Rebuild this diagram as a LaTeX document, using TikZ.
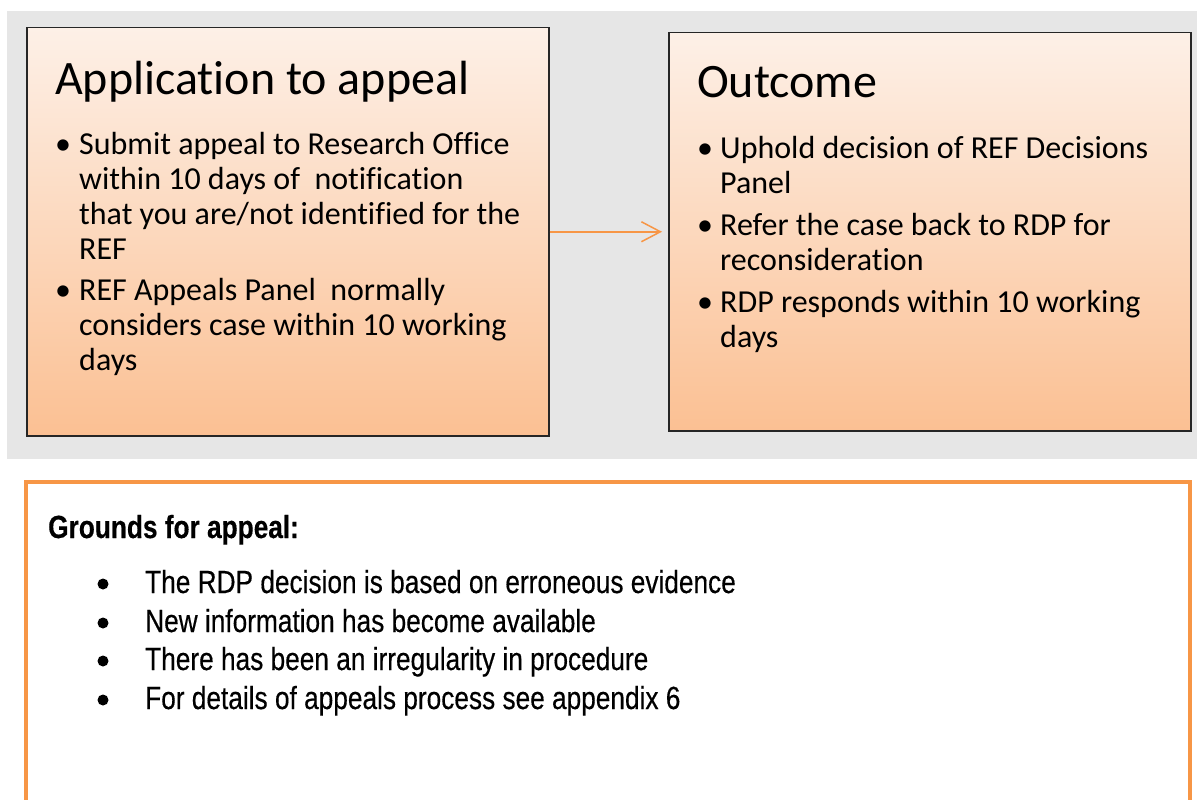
\documentclass[tikz,border=0pt]{standalone}
\usepackage{fontspec}
\setmainfont{Carlito}[Ligatures=NoCommon]
\newfontfamily\narrowfont[FakeStretch=0.82,FakeBold=0.4]{Liberation Sans}
\usetikzlibrary{arrows.meta}
\definecolor{band}{HTML}{E6E6E6}
\definecolor{peach}{HTML}{FDF0E7}
\definecolor{apricot}{HTML}{FBC093}
\definecolor{accent}{HTML}{F79646}
\tikzset{
  panel/.style={draw=black!85,line width=1.5pt,top color=peach,bottom color=apricot,inner sep=0pt,anchor=north west},
  heading/.style={anchor=base west,inner sep=0pt,font=\fontsize{48}{50}\selectfont},
  blt/.style={anchor=base west,inner sep=0pt,font=\fontsize{32}{35}\selectfont},
  % multi-line text: base is the last line
  listtext/.style={anchor=base west,inner sep=0pt,align=left,font=\fontsize{32}{35}\selectfont},
  ground/.style={anchor=base west,inner sep=0pt,font=\narrowfont\fontsize{32}{38}\selectfont},
  grounddot/.style={circle,fill=black,inner sep=0pt,minimum size=11pt},
}

\begin{document}
\begin{tikzpicture}[x=1pt,y=-1pt]
  \useasboundingbox (0,0) rectangle (1197,800);
  \fill[band] (7,11) rectangle (1197,459);
  \node[panel,minimum width=522pt,minimum height=408pt] (apply) at (26,27) {};
  \node[panel,minimum width=522pt,minimum height=398pt] (outcome) at (668,32) {};
  \draw[accent,line width=1.5pt,-{Straight Barb[length=19pt,width=20pt]},shorten >=6pt] (apply) -- (outcome);
  % left panel
  \node[heading] (applytitle) at (55,95) {Application to appeal};
  \node[blt] (apply1dot) at (55,154) {•};
  \node[listtext] (apply1) at (79,259) {Submit appeal to Research Office\\within 10 days of~ notification\\that you are/not identified for the\\REF};
  \node[blt] (apply2dot) at (55,300) {•};
  \node[listtext] (apply2) at (79,370) {REF Appeals Panel~ normally\\considers case within 10 working\\days};
  % right panel
  \node[heading] (outcometitle) at (697,98) {Outcome};
  \node[blt] (outcome1dot) at (697,158) {•};
  \node[listtext] (outcome1) at (720,193) {Uphold decision of REF Decisions\\Panel};
  \node[blt] (outcome2dot) at (697,235) {•};
  \node[listtext] (outcome2) at (720,270) {Refer the case back to RDP for\\reconsideration};
  \node[blt] (outcome3dot) at (697,312) {•};
  \node[listtext] (outcome3) at (720,347) {RDP responds within 10 working\\days};
  % grounds
  \node[draw=accent,line width=4pt,anchor=north west,minimum width=1164pt,minimum height=340pt] (grounds) at (24,480) {};
  \node[ground,font=\narrowfont\bfseries\fontsize{32}{38}\selectfont] (groundstitle) at (48,538) {Grounds for appeal:};
  \node[grounddot] (ground1dot) at (103,584) {};
  \node[ground] (ground1) at (145,593) {The RDP decision is based on erroneous evidence};
  \node[grounddot] (ground2dot) at (103,623) {};
  \node[ground] (ground2) at (145,632) {New information has become available};
  \node[grounddot] (ground3dot) at (103,661) {};
  \node[ground] (ground3) at (145,670) {There has been an irregularity in procedure};
  \node[grounddot] (ground4dot) at (103,700) {};
  \node[ground] (ground4) at (145,709) {For details of appeals process see appendix 6};
\end{tikzpicture}
\end{document}
